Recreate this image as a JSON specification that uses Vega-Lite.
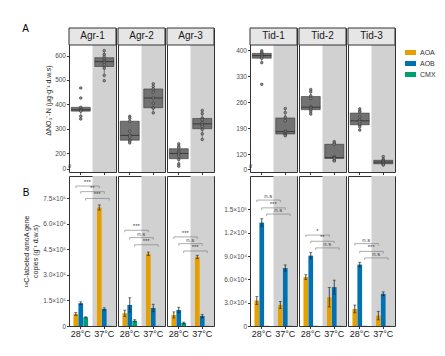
{
"$schema":"https://vega.github.io/schema/vega-lite/v6.json",
"background":"white",
"padding":{"left":22,"top":23,"right":5,"bottom":5},
"config":{"font":"Liberation Sans","aria":false,"view":{"stroke":"#333","strokeWidth":1},
"style":{"guide-title":{"lineBreak":"\n"}},
"axis":{"labelFontSize":6.5,"labelColor":"#4d4d4d","tickColor":"#333","tickSize":2.5,"domain":false,"grid":false,"titleFontSize":7,"titleFontWeight":"normal","titleColor":"#1a1a1a","labelPadding":1,"labelOverlap":false}},
"title":{"text":"A","anchor":"start","frame":"bounds","fontSize":10,"fontWeight":"normal","offset":-6.5},
"datasets":{
"boxAgr":[
{"site":"Agr-1","temp":"28°C","v":467},{"site":"Agr-1","temp":"28°C","v":426},{"site":"Agr-1","temp":"28°C","v":388},{"site":"Agr-1","temp":"28°C","v":380},{"site":"Agr-1","temp":"28°C","v":378},{"site":"Agr-1","temp":"28°C","v":375},{"site":"Agr-1","temp":"28°C","v":372},{"site":"Agr-1","temp":"28°C","v":351},{"site":"Agr-1","temp":"28°C","v":340},
{"site":"Agr-1","temp":"37°C","v":620},{"site":"Agr-1","temp":"37°C","v":605},{"site":"Agr-1","temp":"37°C","v":596},{"site":"Agr-1","temp":"37°C","v":586},{"site":"Agr-1","temp":"37°C","v":578},{"site":"Agr-1","temp":"37°C","v":575},{"site":"Agr-1","temp":"37°C","v":570},{"site":"Agr-1","temp":"37°C","v":562},{"site":"Agr-1","temp":"37°C","v":548},{"site":"Agr-1","temp":"37°C","v":518},{"site":"Agr-1","temp":"37°C","v":497},
{"site":"Agr-2","temp":"28°C","v":351},{"site":"Agr-2","temp":"28°C","v":343},{"site":"Agr-2","temp":"28°C","v":331},{"site":"Agr-2","temp":"28°C","v":290},{"site":"Agr-2","temp":"28°C","v":273},{"site":"Agr-2","temp":"28°C","v":266},{"site":"Agr-2","temp":"28°C","v":253},{"site":"Agr-2","temp":"28°C","v":249},{"site":"Agr-2","temp":"28°C","v":242},
{"site":"Agr-2","temp":"37°C","v":484},{"site":"Agr-2","temp":"37°C","v":473},{"site":"Agr-2","temp":"37°C","v":463},{"site":"Agr-2","temp":"37°C","v":450},{"site":"Agr-2","temp":"37°C","v":426},{"site":"Agr-2","temp":"37°C","v":405},{"site":"Agr-2","temp":"37°C","v":386},{"site":"Agr-2","temp":"37°C","v":385},{"site":"Agr-2","temp":"37°C","v":365},
{"site":"Agr-3","temp":"28°C","v":238},{"site":"Agr-3","temp":"28°C","v":228},{"site":"Agr-3","temp":"28°C","v":222},{"site":"Agr-3","temp":"28°C","v":208},{"site":"Agr-3","temp":"28°C","v":201},{"site":"Agr-3","temp":"28°C","v":197},{"site":"Agr-3","temp":"28°C","v":188},{"site":"Agr-3","temp":"28°C","v":174},{"site":"Agr-3","temp":"28°C","v":156},{"site":"Agr-3","temp":"28°C","v":147},
{"site":"Agr-3","temp":"37°C","v":375},{"site":"Agr-3","temp":"37°C","v":362},{"site":"Agr-3","temp":"37°C","v":344},{"site":"Agr-3","temp":"37°C","v":337},{"site":"Agr-3","temp":"37°C","v":324},{"site":"Agr-3","temp":"37°C","v":316},{"site":"Agr-3","temp":"37°C","v":310},{"site":"Agr-3","temp":"37°C","v":297},{"site":"Agr-3","temp":"37°C","v":279},{"site":"Agr-3","temp":"37°C","v":256}
],
"boxTid":[
{"site":"Tid-1","temp":"28°C","v":398},{"site":"Tid-1","temp":"28°C","v":394},{"site":"Tid-1","temp":"28°C","v":391},{"site":"Tid-1","temp":"28°C","v":388},{"site":"Tid-1","temp":"28°C","v":385},{"site":"Tid-1","temp":"28°C","v":382},{"site":"Tid-1","temp":"28°C","v":378},{"site":"Tid-1","temp":"28°C","v":366},{"site":"Tid-1","temp":"28°C","v":308},
{"site":"Tid-1","temp":"37°C","v":243},{"site":"Tid-1","temp":"37°C","v":232},{"site":"Tid-1","temp":"37°C","v":220},{"site":"Tid-1","temp":"37°C","v":210},{"site":"Tid-1","temp":"37°C","v":182},{"site":"Tid-1","temp":"37°C","v":180},{"site":"Tid-1","temp":"37°C","v":176},{"site":"Tid-1","temp":"37°C","v":174},{"site":"Tid-1","temp":"37°C","v":172},{"site":"Tid-1","temp":"37°C","v":170},
{"site":"Tid-2","temp":"28°C","v":294},{"site":"Tid-2","temp":"28°C","v":288},{"site":"Tid-2","temp":"28°C","v":277},{"site":"Tid-2","temp":"28°C","v":270},{"site":"Tid-2","temp":"28°C","v":248},{"site":"Tid-2","temp":"28°C","v":245},{"site":"Tid-2","temp":"28°C","v":242},{"site":"Tid-2","temp":"28°C","v":239},{"site":"Tid-2","temp":"28°C","v":234},{"site":"Tid-2","temp":"28°C","v":228},
{"site":"Tid-2","temp":"37°C","v":154},{"site":"Tid-2","temp":"37°C","v":150},{"site":"Tid-2","temp":"37°C","v":147},{"site":"Tid-2","temp":"37°C","v":114},{"site":"Tid-2","temp":"37°C","v":111},{"site":"Tid-2","temp":"37°C","v":110},{"site":"Tid-2","temp":"37°C","v":109},{"site":"Tid-2","temp":"37°C","v":104},{"site":"Tid-2","temp":"37°C","v":102},
{"site":"Tid-3","temp":"28°C","v":242},{"site":"Tid-3","temp":"28°C","v":236},{"site":"Tid-3","temp":"28°C","v":234},{"site":"Tid-3","temp":"28°C","v":221},{"site":"Tid-3","temp":"28°C","v":212},{"site":"Tid-3","temp":"28°C","v":208},{"site":"Tid-3","temp":"28°C","v":203},{"site":"Tid-3","temp":"28°C","v":198},{"site":"Tid-3","temp":"28°C","v":194},{"site":"Tid-3","temp":"28°C","v":185},
{"site":"Tid-3","temp":"37°C","v":114},{"site":"Tid-3","temp":"37°C","v":107},{"site":"Tid-3","temp":"37°C","v":103},{"site":"Tid-3","temp":"37°C","v":100},{"site":"Tid-3","temp":"37°C","v":98},{"site":"Tid-3","temp":"37°C","v":95},{"site":"Tid-3","temp":"37°C","v":93},{"site":"Tid-3","temp":"37°C","v":91}
],
"barAgr":[
{"site":"Agr-1","temp":"28°C","grp":"AOA","v":71000,"e":8000},{"site":"Agr-1","temp":"28°C","grp":"AOB","v":134000,"e":8000},{"site":"Agr-1","temp":"28°C","grp":"CMX","v":51000,"e":3000},
{"site":"Agr-1","temp":"37°C","grp":"AOA","v":697000,"e":15000},{"site":"Agr-1","temp":"37°C","grp":"AOB","v":100000,"e":7000},{"site":"Agr-1","temp":"37°C","grp":"CMX","v":1000,"e":0},
{"site":"Agr-2","temp":"28°C","grp":"AOA","v":75000,"e":18000},{"site":"Agr-2","temp":"28°C","grp":"AOB","v":124000,"e":42000},{"site":"Agr-2","temp":"28°C","grp":"CMX","v":31000,"e":6000},
{"site":"Agr-2","temp":"37°C","grp":"AOA","v":425000,"e":10000},{"site":"Agr-2","temp":"37°C","grp":"AOB","v":106000,"e":22000},{"site":"Agr-2","temp":"37°C","grp":"CMX","v":1000,"e":0},
{"site":"Agr-3","temp":"28°C","grp":"AOA","v":65000,"e":18000},{"site":"Agr-3","temp":"28°C","grp":"AOB","v":94000,"e":16000},{"site":"Agr-3","temp":"28°C","grp":"CMX","v":18000,"e":5000},
{"site":"Agr-3","temp":"37°C","grp":"AOA","v":406000,"e":10000},{"site":"Agr-3","temp":"37°C","grp":"AOB","v":59000,"e":9000},{"site":"Agr-3","temp":"37°C","grp":"CMX","v":1000,"e":0},
{"site":"Agr-1","grp":"AOA","lvl":823000,"sig":"***","ends":["28°C","37°C"]},{"site":"Agr-1","grp":"AOB","lvl":790000,"sig":"**","ends":["28°C","37°C"]},{"site":"Agr-1","grp":"CMX","lvl":750000,"sig":"***","ends":["28°C","37°C"]},
{"site":"Agr-2","grp":"AOA","lvl":563000,"sig":"***","ends":["28°C","37°C"]},{"site":"Agr-2","grp":"AOB","lvl":520000,"sig":"n.s","ends":["28°C","37°C"]},{"site":"Agr-2","grp":"CMX","lvl":478000,"sig":"***","ends":["28°C","37°C"]},
{"site":"Agr-3","grp":"AOA","lvl":524000,"sig":"***","ends":["28°C","37°C"]},{"site":"Agr-3","grp":"AOB","lvl":484000,"sig":"n.s","ends":["28°C","37°C"]},{"site":"Agr-3","grp":"CMX","lvl":441000,"sig":"***","ends":["28°C","37°C"]}
],
"barTid":[
{"site":"Tid-1","temp":"28°C","grp":"AOA","v":32800,"e":5000},{"site":"Tid-1","temp":"28°C","grp":"AOB","v":133000,"e":5000},{"site":"Tid-1","temp":"28°C","grp":"CMX","v":300,"e":0},
{"site":"Tid-1","temp":"37°C","grp":"AOA","v":27000,"e":4500},{"site":"Tid-1","temp":"37°C","grp":"AOB","v":74600,"e":4000},{"site":"Tid-1","temp":"37°C","grp":"CMX","v":300,"e":0},
{"site":"Tid-2","temp":"28°C","grp":"AOA","v":63000,"e":3000},{"site":"Tid-2","temp":"28°C","grp":"AOB","v":90500,"e":4000},{"site":"Tid-2","temp":"28°C","grp":"CMX","v":300,"e":0},
{"site":"Tid-2","temp":"37°C","grp":"AOA","v":37000,"e":12500},{"site":"Tid-2","temp":"37°C","grp":"AOB","v":50000,"e":9000},{"site":"Tid-2","temp":"37°C","grp":"CMX","v":300,"e":0},
{"site":"Tid-3","temp":"28°C","grp":"AOA","v":22000,"e":5000},{"site":"Tid-3","temp":"28°C","grp":"AOB","v":79000,"e":3000},{"site":"Tid-3","temp":"28°C","grp":"CMX","v":300,"e":0},
{"site":"Tid-3","temp":"37°C","grp":"AOA","v":13400,"e":5500},{"site":"Tid-3","temp":"37°C","grp":"AOB","v":41400,"e":2500},{"site":"Tid-3","temp":"37°C","grp":"CMX","v":300,"e":0},
{"site":"Tid-1","grp":"AOA","lvl":162000,"sig":"n.s","ends":["28°C","37°C"]},{"site":"Tid-1","grp":"AOB","lvl":152000,"sig":"***","ends":["28°C","37°C"]},{"site":"Tid-1","grp":"CMX","lvl":144000,"sig":"n.s","ends":["28°C","37°C"]},
{"site":"Tid-2","grp":"AOA","lvl":117000,"sig":"*","ends":["28°C","37°C"]},{"site":"Tid-2","grp":"AOB","lvl":109000,"sig":"**","ends":["28°C","37°C"]},{"site":"Tid-2","grp":"CMX","lvl":100500,"sig":"n.s","ends":["28°C","37°C"]},
{"site":"Tid-3","grp":"AOA","lvl":106000,"sig":"n.s","ends":["28°C","37°C"]},{"site":"Tid-3","grp":"AOB","lvl":96000,"sig":"***","ends":["28°C","37°C"]},{"site":"Tid-3","grp":"CMX","lvl":87600,"sig":"n.s","ends":["28°C","37°C"]}
]
},
"columns":7,
"bounds":"flush",
"spacing":{"row":4,"column":2},
"resolve":{"scale":{"x":"independent","y":"independent","xOffset":"independent"}},
"concat":[
{"width":47,"height":144,"layer":[
 {"data":{"values":[{"temp":"37°C"}]},"mark":{"type":"rect","fill":"#d1d1d1"},"encoding":{"x":{"field":"temp","type":"nominal","scale":{"type":"band","domain":["28°C","37°C"],"paddingInner":0,"paddingOuter":0},"axis":{"title":null,"labels":false}}}},
 {"data":{"name":"boxAgr"},"transform":[{"filter":"datum.site=='Agr-1'"}],"mark":{"type":"boxplot","extent":1.5,"size":19,"outliers":false,"ticks":false,"box":{"color":"#727272","stroke":"#222","strokeWidth":0.5},"median":{"color":"#222","strokeWidth":0.8},"rule":{"color":"#222","strokeWidth":0.5}},
  "encoding":{"x":{"field":"temp","type":"nominal"},"y":{"field":"v","type":"quantitative","scale":{"domain":[123,712.6],"nice":false,"zero":false},"axis":{"values":[137,200,300,400,500,600],"tickCount":12,"labelExpr":"datum.value<150?'0':datum.label","title":"ΔNO₃⁻-N (μg·g⁻¹ d.w.s)","titlePadding":3,"labelOverlap":false}}}},
 {"data":{"name":"boxAgr"},"transform":[{"filter":"datum.site=='Agr-1'"}],"mark":{"type":"point","filled":true,"size":7,"fill":"#8a8a8a","stroke":"#222","strokeWidth":0.5,"opacity":1},"encoding":{"x":{"field":"temp","type":"nominal"},"y":{"field":"v","type":"quantitative"}}},
 {"data":{"values":[{"site":"Agr-1"}]},"mark":{"type":"rect","fill":"#e6e6e6","stroke":"#333","strokeWidth":1},"encoding":{"y":{"datum":643,"type":"quantitative"},"y2":{"datum":712.6}}},
 {"data":{"values":[{"site":"Agr-1"}]},"mark":{"type":"text","fontSize":10,"fill":"#1a1a1a"},"encoding":{"y":{"datum":677.8,"type":"quantitative"},"text":{"field":"site"}}},
 {"data":{"values":[{"temp":"28°C"}]},"mark":{"type":"text","text":"≈","angle":90,"fontSize":8,"fill":"#333","dy":12},"encoding":{"x":{"field":"temp","type":"nominal"},"y":{"datum":147,"type":"quantitative"}}}
]},
{"width":47,"height":144,"layer":[
 {"data":{"values":[{"temp":"37°C"}]},"mark":{"type":"rect","fill":"#d1d1d1"},"encoding":{"x":{"field":"temp","type":"nominal","scale":{"type":"band","domain":["28°C","37°C"],"paddingInner":0,"paddingOuter":0},"axis":{"title":null,"labels":false}}}},
 {"data":{"name":"boxAgr"},"transform":[{"filter":"datum.site=='Agr-2'"}],"mark":{"type":"boxplot","extent":1.5,"size":19,"outliers":false,"ticks":false,"box":{"color":"#727272","stroke":"#222","strokeWidth":0.5},"median":{"color":"#222","strokeWidth":0.8},"rule":{"color":"#222","strokeWidth":0.5}},
  "encoding":{"x":{"field":"temp","type":"nominal"},"y":{"field":"v","type":"quantitative","scale":{"domain":[123,712.6],"nice":false,"zero":false},"axis":null}}},
 {"data":{"name":"boxAgr"},"transform":[{"filter":"datum.site=='Agr-2'"}],"mark":{"type":"point","filled":true,"size":7,"fill":"#8a8a8a","stroke":"#222","strokeWidth":0.5,"opacity":1},"encoding":{"x":{"field":"temp","type":"nominal"},"y":{"field":"v","type":"quantitative"}}},
 {"data":{"values":[{"site":"Agr-2"}]},"mark":{"type":"rect","fill":"#e6e6e6","stroke":"#333","strokeWidth":1},"encoding":{"y":{"datum":643,"type":"quantitative"},"y2":{"datum":712.6}}},
 {"data":{"values":[{"site":"Agr-2"}]},"mark":{"type":"text","fontSize":10,"fill":"#1a1a1a"},"encoding":{"y":{"datum":677.8,"type":"quantitative"},"text":{"field":"site"}}}
]},
{"width":47,"height":144,"layer":[
 {"data":{"values":[{"temp":"37°C"}]},"mark":{"type":"rect","fill":"#d1d1d1"},"encoding":{"x":{"field":"temp","type":"nominal","scale":{"type":"band","domain":["28°C","37°C"],"paddingInner":0,"paddingOuter":0},"axis":{"title":null,"labels":false}}}},
 {"data":{"name":"boxAgr"},"transform":[{"filter":"datum.site=='Agr-3'"}],"mark":{"type":"boxplot","extent":1.5,"size":19,"outliers":false,"ticks":false,"box":{"color":"#727272","stroke":"#222","strokeWidth":0.5},"median":{"color":"#222","strokeWidth":0.8},"rule":{"color":"#222","strokeWidth":0.5}},
  "encoding":{"x":{"field":"temp","type":"nominal"},"y":{"field":"v","type":"quantitative","scale":{"domain":[123,712.6],"nice":false,"zero":false},"axis":null}}},
 {"data":{"name":"boxAgr"},"transform":[{"filter":"datum.site=='Agr-3'"}],"mark":{"type":"point","filled":true,"size":7,"fill":"#8a8a8a","stroke":"#222","strokeWidth":0.5,"opacity":1},"encoding":{"x":{"field":"temp","type":"nominal"},"y":{"field":"v","type":"quantitative"}}},
 {"data":{"values":[{"site":"Agr-3"}]},"mark":{"type":"rect","fill":"#e6e6e6","stroke":"#333","strokeWidth":1},"encoding":{"y":{"datum":643,"type":"quantitative"},"y2":{"datum":712.6}}},
 {"data":{"values":[{"site":"Agr-3"}]},"mark":{"type":"text","fontSize":10,"fill":"#1a1a1a"},"encoding":{"y":{"datum":677.8,"type":"quantitative"},"text":{"field":"site"}}}
]},
{"width":32,"height":144,"view":{"stroke":null},"data":{"values":[]},"mark":"point","encoding":{}},
{"width":47,"height":144,"layer":[
 {"data":{"values":[{"temp":"37°C"}]},"mark":{"type":"rect","fill":"#d1d1d1"},"encoding":{"x":{"field":"temp","type":"nominal","scale":{"type":"band","domain":["28°C","37°C"],"paddingInner":0,"paddingOuter":0},"axis":{"title":null,"labels":false}}}},
 {"data":{"name":"boxTid"},"transform":[{"filter":"datum.site=='Tid-1'"}],"mark":{"type":"boxplot","extent":1.5,"size":19,"outliers":false,"ticks":false,"box":{"color":"#727272","stroke":"#222","strokeWidth":0.5},"median":{"color":"#222","strokeWidth":0.8},"rule":{"color":"#222","strokeWidth":0.5}},
  "encoding":{"x":{"field":"temp","type":"nominal"},"y":{"field":"v","type":"quantitative","scale":{"domain":[72.5,459.1],"nice":false,"zero":false},"axis":{"values":[80.5,120,190,260,330,400],"tickCount":12,"labelExpr":"datum.value<100?'0':datum.label","title":null,"labelOverlap":false}}}},
 {"data":{"name":"boxTid"},"transform":[{"filter":"datum.site=='Tid-1'"}],"mark":{"type":"point","filled":true,"size":7,"fill":"#8a8a8a","stroke":"#222","strokeWidth":0.5,"opacity":1},"encoding":{"x":{"field":"temp","type":"nominal"},"y":{"field":"v","type":"quantitative"}}},
 {"data":{"values":[{"site":"Tid-1"}]},"mark":{"type":"rect","fill":"#e6e6e6","stroke":"#333","strokeWidth":1},"encoding":{"y":{"datum":413.4,"type":"quantitative"},"y2":{"datum":459.1}}},
 {"data":{"values":[{"site":"Tid-1"}]},"mark":{"type":"text","fontSize":10,"fill":"#1a1a1a"},"encoding":{"y":{"datum":436.3,"type":"quantitative"},"text":{"field":"site"}}},
 {"data":{"values":[{"temp":"28°C"}]},"mark":{"type":"text","text":"≈","angle":90,"fontSize":8,"fill":"#333","dy":12},"encoding":{"x":{"field":"temp","type":"nominal"},"y":{"datum":88,"type":"quantitative"}}}
]},
{"width":47,"height":144,"layer":[
 {"data":{"values":[{"temp":"37°C"}]},"mark":{"type":"rect","fill":"#d1d1d1"},"encoding":{"x":{"field":"temp","type":"nominal","scale":{"type":"band","domain":["28°C","37°C"],"paddingInner":0,"paddingOuter":0},"axis":{"title":null,"labels":false}}}},
 {"data":{"name":"boxTid"},"transform":[{"filter":"datum.site=='Tid-2'"}],"mark":{"type":"boxplot","extent":1.5,"size":19,"outliers":false,"ticks":false,"box":{"color":"#727272","stroke":"#222","strokeWidth":0.5},"median":{"color":"#222","strokeWidth":0.8},"rule":{"color":"#222","strokeWidth":0.5}},
  "encoding":{"x":{"field":"temp","type":"nominal"},"y":{"field":"v","type":"quantitative","scale":{"domain":[72.5,459.1],"nice":false,"zero":false},"axis":null}}},
 {"data":{"name":"boxTid"},"transform":[{"filter":"datum.site=='Tid-2'"}],"mark":{"type":"point","filled":true,"size":7,"fill":"#8a8a8a","stroke":"#222","strokeWidth":0.5,"opacity":1},"encoding":{"x":{"field":"temp","type":"nominal"},"y":{"field":"v","type":"quantitative"}}},
 {"data":{"values":[{"site":"Tid-2"}]},"mark":{"type":"rect","fill":"#e6e6e6","stroke":"#333","strokeWidth":1},"encoding":{"y":{"datum":413.4,"type":"quantitative"},"y2":{"datum":459.1}}},
 {"data":{"values":[{"site":"Tid-2"}]},"mark":{"type":"text","fontSize":10,"fill":"#1a1a1a"},"encoding":{"y":{"datum":436.3,"type":"quantitative"},"text":{"field":"site"}}}
]},
{"width":47,"height":144,"layer":[
 {"data":{"values":[{"temp":"37°C"}]},"mark":{"type":"rect","fill":"#d1d1d1"},"encoding":{"x":{"field":"temp","type":"nominal","scale":{"type":"band","domain":["28°C","37°C"],"paddingInner":0,"paddingOuter":0},"axis":{"title":null,"labels":false}}}},
 {"data":{"name":"boxTid"},"transform":[{"filter":"datum.site=='Tid-3'"}],"mark":{"type":"boxplot","extent":1.5,"size":19,"outliers":false,"ticks":false,"box":{"color":"#727272","stroke":"#222","strokeWidth":0.5},"median":{"color":"#222","strokeWidth":0.8},"rule":{"color":"#222","strokeWidth":0.5}},
  "encoding":{"x":{"field":"temp","type":"nominal"},"y":{"field":"v","type":"quantitative","scale":{"domain":[72.5,459.1],"nice":false,"zero":false},"axis":null}}},
 {"data":{"name":"boxTid"},"transform":[{"filter":"datum.site=='Tid-3'"}],"mark":{"type":"point","filled":true,"size":7,"fill":"#8a8a8a","stroke":"#222","strokeWidth":0.5,"opacity":1},"encoding":{"x":{"field":"temp","type":"nominal"},"y":{"field":"v","type":"quantitative"}}},
 {"data":{"values":[{"site":"Tid-3"}]},"mark":{"type":"rect","fill":"#e6e6e6","stroke":"#333","strokeWidth":1},"encoding":{"y":{"datum":413.4,"type":"quantitative"},"y2":{"datum":459.1}}},
 {"data":{"values":[{"site":"Tid-3"}]},"mark":{"type":"text","fontSize":10,"fill":"#1a1a1a"},"encoding":{"y":{"datum":436.3,"type":"quantitative"},"text":{"field":"site"}}}
]},
{"width":47,"height":150,"title":{"text":"B","anchor":"start","frame":"bounds","fontSize":10,"fontWeight":"normal","dy":26},"layer":[
 {"data":{"values":[{"temp":"37°C"}]},"mark":{"type":"rect","fill":"#d1d1d1"},"encoding":{"x":{"field":"temp","type":"nominal","scale":{"type":"band","domain":["28°C","37°C"],"paddingInner":0,"paddingOuter":0},"axis":{"title":null,"labelFontSize":9,"labelColor":"#1a1a1a","labelAngle":0,"labelPadding":1}}}},
 {"data":{"name":"barAgr"},"transform":[{"filter":"datum.site=='Agr-1' && isValid(datum.v)"}],"mark":{"type":"bar"},
  "encoding":{"x":{"field":"temp","type":"nominal"},"xOffset":{"field":"grp","type":"nominal","scale":{"domain":["AOA","AOB","CMX"],"paddingInner":0.05,"paddingOuter":0.9}},
   "y":{"field":"v","type":"quantitative","scale":{"domain":[0,882000],"nice":false},"axis":{"values":[0,150000,300000,450000,600000,750000],"tickCount":12,"labelExpr":"datum.value==0?'0':format(datum.value/1e5,'.1f')+'×10⁵'","title":"¹³C-labeled amoA gene\ncopies (g⁻¹ d.w.s)","titlePadding":4,"labelOverlap":false}},
   "color":{"field":"grp","type":"nominal","scale":{"domain":["AOA","AOB","CMX"],"range":["#E69F00","#0072B2","#009E73"]},"legend":{"title":null,"orient":"none","legendX":336,"legendY":19,"padding":0,"symbolType":"M-1,-0.45H1V0.45H-1Z","symbolSize":121,"symbolStrokeWidth":0,"labelFontSize":7,"labelColor":"#333","rowPadding":2}}}},
 {"data":{"name":"barAgr"},"transform":[{"filter":"datum.site=='Agr-1' && datum.e>0"}],"mark":{"type":"errorbar","ticks":{"size":3},"color":"#222","thickness":0.8},"encoding":{"x":{"field":"temp","type":"nominal"},"xOffset":{"field":"grp","type":"nominal"},"y":{"field":"v","type":"quantitative","axis":{"title":"¹³C-labeled amoA gene\ncopies (g⁻¹ d.w.s)"}},"yError":{"field":"e"}}},
 {"data":{"name":"barAgr"},"transform":[{"filter":"datum.site=='Agr-1' && isValid(datum.sig)"},{"flatten":["ends"]}],"mark":{"type":"line","stroke":"#777","strokeWidth":0.6},"encoding":{"x":{"field":"ends","type":"nominal"},"xOffset":{"field":"grp","type":"nominal"},"y":{"field":"lvl","type":"quantitative"},"detail":{"field":"grp"}}},
 {"data":{"name":"barAgr"},"transform":[{"filter":"datum.site=='Agr-1' && isValid(datum.sig)"},{"flatten":["ends"]}],"mark":{"type":"point","shape":"M0,0L0,1","size":16,"filled":false,"stroke":"#777","strokeWidth":0.6,"opacity":1},"encoding":{"x":{"field":"ends","type":"nominal"},"xOffset":{"field":"grp","type":"nominal"},"y":{"field":"lvl","type":"quantitative"}}},
 {"data":{"name":"barAgr"},"transform":[{"filter":"datum.site=='Agr-1' && isValid(datum.sig)"}],"mark":{"type":"text","fontSize":6,"fill":"#444","dx":-12,"dy":-1,"baseline":"bottom"},"encoding":{"x":{"datum":"37°C","type":"nominal"},"xOffset":{"field":"grp","type":"nominal"},"y":{"field":"lvl","type":"quantitative"},"text":{"field":"sig"}}}
]},
{"width":47,"height":150,"layer":[
 {"data":{"values":[{"temp":"37°C"}]},"mark":{"type":"rect","fill":"#d1d1d1"},"encoding":{"x":{"field":"temp","type":"nominal","scale":{"type":"band","domain":["28°C","37°C"],"paddingInner":0,"paddingOuter":0},"axis":{"title":null,"labelFontSize":9,"labelColor":"#1a1a1a","labelAngle":0,"labelPadding":1}}}},
 {"data":{"name":"barAgr"},"transform":[{"filter":"datum.site=='Agr-2' && isValid(datum.v)"}],"mark":{"type":"bar"},
  "encoding":{"x":{"field":"temp","type":"nominal"},"xOffset":{"field":"grp","type":"nominal","scale":{"domain":["AOA","AOB","CMX"],"paddingInner":0.05,"paddingOuter":0.9}},
   "y":{"field":"v","type":"quantitative","scale":{"domain":[0,882000],"nice":false},"axis":null},"color":{"field":"grp","type":"nominal"}}},
 {"data":{"name":"barAgr"},"transform":[{"filter":"datum.site=='Agr-2' && datum.e>0"}],"mark":{"type":"errorbar","ticks":{"size":3},"color":"#222","thickness":0.8},"encoding":{"x":{"field":"temp","type":"nominal"},"xOffset":{"field":"grp","type":"nominal"},"y":{"field":"v","type":"quantitative"},"yError":{"field":"e"}}},
 {"data":{"name":"barAgr"},"transform":[{"filter":"datum.site=='Agr-2' && isValid(datum.sig)"},{"flatten":["ends"]}],"mark":{"type":"line","stroke":"#777","strokeWidth":0.6},"encoding":{"x":{"field":"ends","type":"nominal"},"xOffset":{"field":"grp","type":"nominal"},"y":{"field":"lvl","type":"quantitative"},"detail":{"field":"grp"}}},
 {"data":{"name":"barAgr"},"transform":[{"filter":"datum.site=='Agr-2' && isValid(datum.sig)"},{"flatten":["ends"]}],"mark":{"type":"point","shape":"M0,0L0,1","size":16,"filled":false,"stroke":"#777","strokeWidth":0.6,"opacity":1},"encoding":{"x":{"field":"ends","type":"nominal"},"xOffset":{"field":"grp","type":"nominal"},"y":{"field":"lvl","type":"quantitative"}}},
 {"data":{"name":"barAgr"},"transform":[{"filter":"datum.site=='Agr-2' && isValid(datum.sig)"}],"mark":{"type":"text","fontSize":6,"fill":"#444","dx":-12,"dy":-1,"baseline":"bottom"},"encoding":{"x":{"datum":"37°C","type":"nominal"},"xOffset":{"field":"grp","type":"nominal"},"y":{"field":"lvl","type":"quantitative"},"text":{"field":"sig"}}}
]},
{"width":47,"height":150,"layer":[
 {"data":{"values":[{"temp":"37°C"}]},"mark":{"type":"rect","fill":"#d1d1d1"},"encoding":{"x":{"field":"temp","type":"nominal","scale":{"type":"band","domain":["28°C","37°C"],"paddingInner":0,"paddingOuter":0},"axis":{"title":null,"labelFontSize":9,"labelColor":"#1a1a1a","labelAngle":0,"labelPadding":1}}}},
 {"data":{"name":"barAgr"},"transform":[{"filter":"datum.site=='Agr-3' && isValid(datum.v)"}],"mark":{"type":"bar"},
  "encoding":{"x":{"field":"temp","type":"nominal"},"xOffset":{"field":"grp","type":"nominal","scale":{"domain":["AOA","AOB","CMX"],"paddingInner":0.05,"paddingOuter":0.9}},
   "y":{"field":"v","type":"quantitative","scale":{"domain":[0,882000],"nice":false},"axis":null},"color":{"field":"grp","type":"nominal"}}},
 {"data":{"name":"barAgr"},"transform":[{"filter":"datum.site=='Agr-3' && datum.e>0"}],"mark":{"type":"errorbar","ticks":{"size":3},"color":"#222","thickness":0.8},"encoding":{"x":{"field":"temp","type":"nominal"},"xOffset":{"field":"grp","type":"nominal"},"y":{"field":"v","type":"quantitative"},"yError":{"field":"e"}}},
 {"data":{"name":"barAgr"},"transform":[{"filter":"datum.site=='Agr-3' && isValid(datum.sig)"},{"flatten":["ends"]}],"mark":{"type":"line","stroke":"#777","strokeWidth":0.6},"encoding":{"x":{"field":"ends","type":"nominal"},"xOffset":{"field":"grp","type":"nominal"},"y":{"field":"lvl","type":"quantitative"},"detail":{"field":"grp"}}},
 {"data":{"name":"barAgr"},"transform":[{"filter":"datum.site=='Agr-3' && isValid(datum.sig)"},{"flatten":["ends"]}],"mark":{"type":"point","shape":"M0,0L0,1","size":16,"filled":false,"stroke":"#777","strokeWidth":0.6,"opacity":1},"encoding":{"x":{"field":"ends","type":"nominal"},"xOffset":{"field":"grp","type":"nominal"},"y":{"field":"lvl","type":"quantitative"}}},
 {"data":{"name":"barAgr"},"transform":[{"filter":"datum.site=='Agr-3' && isValid(datum.sig)"}],"mark":{"type":"text","fontSize":6,"fill":"#444","dx":-12,"dy":-1,"baseline":"bottom"},"encoding":{"x":{"datum":"37°C","type":"nominal"},"xOffset":{"field":"grp","type":"nominal"},"y":{"field":"lvl","type":"quantitative"},"text":{"field":"sig"}}}
]},
{"width":32,"height":150,"view":{"stroke":null},"data":{"values":[]},"mark":"point","encoding":{}},
{"width":47,"height":150,"layer":[
 {"data":{"values":[{"temp":"37°C"}]},"mark":{"type":"rect","fill":"#d1d1d1"},"encoding":{"x":{"field":"temp","type":"nominal","scale":{"type":"band","domain":["28°C","37°C"],"paddingInner":0,"paddingOuter":0},"axis":{"title":null,"labelFontSize":9,"labelColor":"#1a1a1a","labelAngle":0,"labelPadding":1}}}},
 {"data":{"name":"barTid"},"transform":[{"filter":"datum.site=='Tid-1' && isValid(datum.v)"}],"mark":{"type":"bar"},
  "encoding":{"x":{"field":"temp","type":"nominal"},"xOffset":{"field":"grp","type":"nominal","scale":{"domain":["AOA","AOB","CMX"],"paddingInner":0.05,"paddingOuter":0.9}},
   "y":{"field":"v","type":"quantitative","scale":{"domain":[0,193000],"nice":false},"axis":{"values":[0,30000,60000,90000,120000,150000],"tickCount":12,"labelExpr":"datum.value==0?'0':datum.value>=1e5?format(datum.value/1e5,'.1f')+'×10⁵':format(datum.value/1e4,'.1f')+'×10⁴'","title":null,"labelOverlap":false}},"color":{"field":"grp","type":"nominal"}}},
 {"data":{"name":"barTid"},"transform":[{"filter":"datum.site=='Tid-1' && datum.e>0"}],"mark":{"type":"errorbar","ticks":{"size":3},"color":"#222","thickness":0.8},"encoding":{"x":{"field":"temp","type":"nominal"},"xOffset":{"field":"grp","type":"nominal"},"y":{"field":"v","type":"quantitative","title":null},"yError":{"field":"e"}}},
 {"data":{"name":"barTid"},"transform":[{"filter":"datum.site=='Tid-1' && isValid(datum.sig)"},{"flatten":["ends"]}],"mark":{"type":"line","stroke":"#777","strokeWidth":0.6},"encoding":{"x":{"field":"ends","type":"nominal"},"xOffset":{"field":"grp","type":"nominal"},"y":{"field":"lvl","type":"quantitative"},"detail":{"field":"grp"}}},
 {"data":{"name":"barTid"},"transform":[{"filter":"datum.site=='Tid-1' && isValid(datum.sig)"},{"flatten":["ends"]}],"mark":{"type":"point","shape":"M0,0L0,1","size":16,"filled":false,"stroke":"#777","strokeWidth":0.6,"opacity":1},"encoding":{"x":{"field":"ends","type":"nominal"},"xOffset":{"field":"grp","type":"nominal"},"y":{"field":"lvl","type":"quantitative"}}},
 {"data":{"name":"barTid"},"transform":[{"filter":"datum.site=='Tid-1' && isValid(datum.sig)"}],"mark":{"type":"text","fontSize":6,"fill":"#444","dx":-12,"dy":-1,"baseline":"bottom"},"encoding":{"x":{"datum":"37°C","type":"nominal"},"xOffset":{"field":"grp","type":"nominal"},"y":{"field":"lvl","type":"quantitative"},"text":{"field":"sig"}}}
]},
{"width":47,"height":150,"layer":[
 {"data":{"values":[{"temp":"37°C"}]},"mark":{"type":"rect","fill":"#d1d1d1"},"encoding":{"x":{"field":"temp","type":"nominal","scale":{"type":"band","domain":["28°C","37°C"],"paddingInner":0,"paddingOuter":0},"axis":{"title":null,"labelFontSize":9,"labelColor":"#1a1a1a","labelAngle":0,"labelPadding":1}}}},
 {"data":{"name":"barTid"},"transform":[{"filter":"datum.site=='Tid-2' && isValid(datum.v)"}],"mark":{"type":"bar"},
  "encoding":{"x":{"field":"temp","type":"nominal"},"xOffset":{"field":"grp","type":"nominal","scale":{"domain":["AOA","AOB","CMX"],"paddingInner":0.05,"paddingOuter":0.9}},
   "y":{"field":"v","type":"quantitative","scale":{"domain":[0,193000],"nice":false},"axis":null},"color":{"field":"grp","type":"nominal"}}},
 {"data":{"name":"barTid"},"transform":[{"filter":"datum.site=='Tid-2' && datum.e>0"}],"mark":{"type":"errorbar","ticks":{"size":3},"color":"#222","thickness":0.8},"encoding":{"x":{"field":"temp","type":"nominal"},"xOffset":{"field":"grp","type":"nominal"},"y":{"field":"v","type":"quantitative"},"yError":{"field":"e"}}},
 {"data":{"name":"barTid"},"transform":[{"filter":"datum.site=='Tid-2' && isValid(datum.sig)"},{"flatten":["ends"]}],"mark":{"type":"line","stroke":"#777","strokeWidth":0.6},"encoding":{"x":{"field":"ends","type":"nominal"},"xOffset":{"field":"grp","type":"nominal"},"y":{"field":"lvl","type":"quantitative"},"detail":{"field":"grp"}}},
 {"data":{"name":"barTid"},"transform":[{"filter":"datum.site=='Tid-2' && isValid(datum.sig)"},{"flatten":["ends"]}],"mark":{"type":"point","shape":"M0,0L0,1","size":16,"filled":false,"stroke":"#777","strokeWidth":0.6,"opacity":1},"encoding":{"x":{"field":"ends","type":"nominal"},"xOffset":{"field":"grp","type":"nominal"},"y":{"field":"lvl","type":"quantitative"}}},
 {"data":{"name":"barTid"},"transform":[{"filter":"datum.site=='Tid-2' && isValid(datum.sig)"}],"mark":{"type":"text","fontSize":6,"fill":"#444","dx":-12,"dy":-1,"baseline":"bottom"},"encoding":{"x":{"datum":"37°C","type":"nominal"},"xOffset":{"field":"grp","type":"nominal"},"y":{"field":"lvl","type":"quantitative"},"text":{"field":"sig"}}}
]},
{"width":47,"height":150,"layer":[
 {"data":{"values":[{"temp":"37°C"}]},"mark":{"type":"rect","fill":"#d1d1d1"},"encoding":{"x":{"field":"temp","type":"nominal","scale":{"type":"band","domain":["28°C","37°C"],"paddingInner":0,"paddingOuter":0},"axis":{"title":null,"labelFontSize":9,"labelColor":"#1a1a1a","labelAngle":0,"labelPadding":1}}}},
 {"data":{"name":"barTid"},"transform":[{"filter":"datum.site=='Tid-3' && isValid(datum.v)"}],"mark":{"type":"bar"},
  "encoding":{"x":{"field":"temp","type":"nominal"},"xOffset":{"field":"grp","type":"nominal","scale":{"domain":["AOA","AOB","CMX"],"paddingInner":0.05,"paddingOuter":0.9}},
   "y":{"field":"v","type":"quantitative","scale":{"domain":[0,193000],"nice":false},"axis":null},"color":{"field":"grp","type":"nominal"}}},
 {"data":{"name":"barTid"},"transform":[{"filter":"datum.site=='Tid-3' && datum.e>0"}],"mark":{"type":"errorbar","ticks":{"size":3},"color":"#222","thickness":0.8},"encoding":{"x":{"field":"temp","type":"nominal"},"xOffset":{"field":"grp","type":"nominal"},"y":{"field":"v","type":"quantitative"},"yError":{"field":"e"}}},
 {"data":{"name":"barTid"},"transform":[{"filter":"datum.site=='Tid-3' && isValid(datum.sig)"},{"flatten":["ends"]}],"mark":{"type":"line","stroke":"#777","strokeWidth":0.6},"encoding":{"x":{"field":"ends","type":"nominal"},"xOffset":{"field":"grp","type":"nominal"},"y":{"field":"lvl","type":"quantitative"},"detail":{"field":"grp"}}},
 {"data":{"name":"barTid"},"transform":[{"filter":"datum.site=='Tid-3' && isValid(datum.sig)"},{"flatten":["ends"]}],"mark":{"type":"point","shape":"M0,0L0,1","size":16,"filled":false,"stroke":"#777","strokeWidth":0.6,"opacity":1},"encoding":{"x":{"field":"ends","type":"nominal"},"xOffset":{"field":"grp","type":"nominal"},"y":{"field":"lvl","type":"quantitative"}}},
 {"data":{"name":"barTid"},"transform":[{"filter":"datum.site=='Tid-3' && isValid(datum.sig)"}],"mark":{"type":"text","fontSize":6,"fill":"#444","dx":-12,"dy":-1,"baseline":"bottom"},"encoding":{"x":{"datum":"37°C","type":"nominal"},"xOffset":{"field":"grp","type":"nominal"},"y":{"field":"lvl","type":"quantitative"},"text":{"field":"sig"}}}
]}
]
}
